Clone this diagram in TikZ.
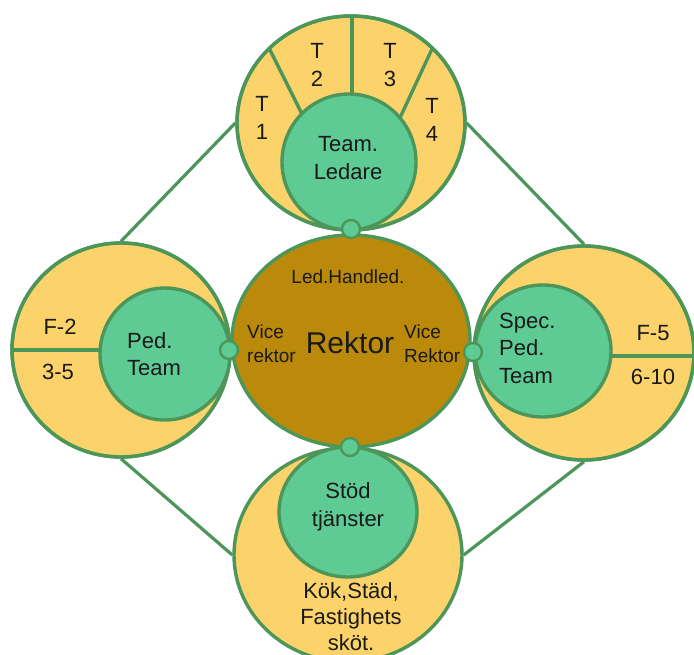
\documentclass[tikz,border=0pt]{standalone}
\usepackage{fontspec}
\setmainfont{Liberation Sans}
\usetikzlibrary{shapes.geometric}
\definecolor{yel}{RGB}{252,211,106}
\definecolor{mint}{RGB}{95,203,148}
\definecolor{edge}{RGB}{76,150,90}
\definecolor{gold}{RGB}{188,138,10}
\tikzset{
  outerc/.style={ellipse, draw=edge, fill=yel, line width=3.4pt, inner sep=0pt},
  innerc/.style={ellipse, draw=edge, fill=mint, line width=3.4pt, inner sep=0pt},
  hub/.style={ellipse, draw=edge, fill=gold, line width=3.4pt, inner sep=0pt},
  dot/.style={circle, draw=edge, fill=mint, line width=2.4pt, inner sep=0pt, minimum size=18pt},
  link/.style={draw=edge, line width=3.2pt},
  divider/.style={draw=edge, line width=3.4pt},
  lbl/.style={font=\fontsize{22}{27.5}\selectfont, inner sep=0pt, align=center, text=black!90},
  lbll/.style={lbl, align=left},
  small/.style={font=\fontsize{19}{24}\selectfont, inner sep=0pt, align=left, text=black!90},
}
\begin{document}
\begin{tikzpicture}[x=1pt,y=-1pt]
\useasboundingbox (0,0) rectangle (694,655);
\clip (0,0) rectangle (694,655);
\fill[white] (0,0) rectangle (694,655);
% outer circles
\node[outerc, minimum width=228pt, minimum height=214pt] (top) at (351,123) {};
\node[outerc, minimum width=218pt, minimum height=214pt] (left) at (121,350) {};
\node[outerc, minimum width=220pt, minimum height=214pt] (right) at (584,353) {};
\node[outerc, minimum width=228pt, minimum height=214pt] (bottom) at (348,555) {};
% dividers
\begin{scope}
  \clip (351,123) ellipse [x radius=113pt, y radius=106pt];
  \draw[divider] (352,0) -- (352,120);
  \draw[divider] (262,34) -- (320,150);
  \draw[divider] (439,34) -- (385,150);
\end{scope}
\begin{scope}
  \clip (121,350) ellipse [x radius=108pt, y radius=106pt];
  \draw[divider] (0,350) -- (160,350);
\end{scope}
\begin{scope}
  \clip (584,353) ellipse [x radius=109pt, y radius=106pt];
  \draw[divider] (550,356) -- (700,356);
\end{scope}
% redraw outer borders over dividers
\draw[edge, line width=3.4pt] (351,123) ellipse [x radius=114pt, y radius=107pt];
\draw[edge, line width=3.4pt] (121,350) ellipse [x radius=109pt, y radius=107pt];
\draw[edge, line width=3.4pt] (584,353) ellipse [x radius=110pt, y radius=107pt];
% links
\draw[link] (top.west) -- (left.north);
\draw[link] (top.east) -- (right.north);
\draw[link] (left.south) -- (bottom.west);
\draw[link] (right.south) -- (bottom.east);
% inner circles
\node[innerc, minimum width=134pt, minimum height=136pt] (topin) at (349,162) {};
\node[innerc, minimum width=130pt, minimum height=132pt] (leftin) at (165,354) {};
\node[innerc, minimum width=136pt, minimum height=132pt] (rightin) at (543,351) {};
\node[innerc, minimum width=138pt, minimum height=130pt] (botin) at (348,512) {};
% hub
\node[hub, minimum width=238pt, minimum height=212pt] (hub) at (351,341) {};
% connection dots
\node[dot] (dt) at (351,229) {};
\node[dot] (dl) at (229,350) {};
\node[dot] (dr) at (473,352) {};
\node[dot] (db) at (350,447) {};
% texts
\node[lbl] (t1) at (262,118) {T\\1};
\node[lbl] (t2) at (317,65) {T\\2};
\node[lbl] (t3) at (390,65) {T\\3};
\node[lbl] (t4) at (432,120) {T\\4};
\node[lbl] (tl) at (348,158) {Team.\\Ledare};
\node[lbl] (f2) at (60,327) {F-2};
\node[lbl] (f35) at (58,372) {3-5};
\node[lbll, anchor=west] (pt) at (127,354) {Ped.\\Team};
\node[lbll, anchor=west] (spt) at (499,348) {Spec.\\Ped.\\Team};
\node[lbl] (f5) at (653,333) {F-5};
\node[lbl] (f610) at (653,377) {6-10};
\node[lbl] (st) at (348,507) {Stöd\\tjänster};
\node[lbl, font=\fontsize{22}{26}\selectfont] (kok) at (351,617) {Kök,Städ,\\Fastighets\\sköt.};
\node[small, align=center] (led) at (348,277) {Led.Handled.};
\node[small, anchor=west] (vl) at (247,344) {Vice\\rektor};
\node[small, anchor=west] (vr) at (404,344) {Vice\\Rektor};
\node[lbl, font=\fontsize{30}{36}\selectfont] (rek) at (350,343) {Rektor};
\end{tikzpicture}
\end{document}
